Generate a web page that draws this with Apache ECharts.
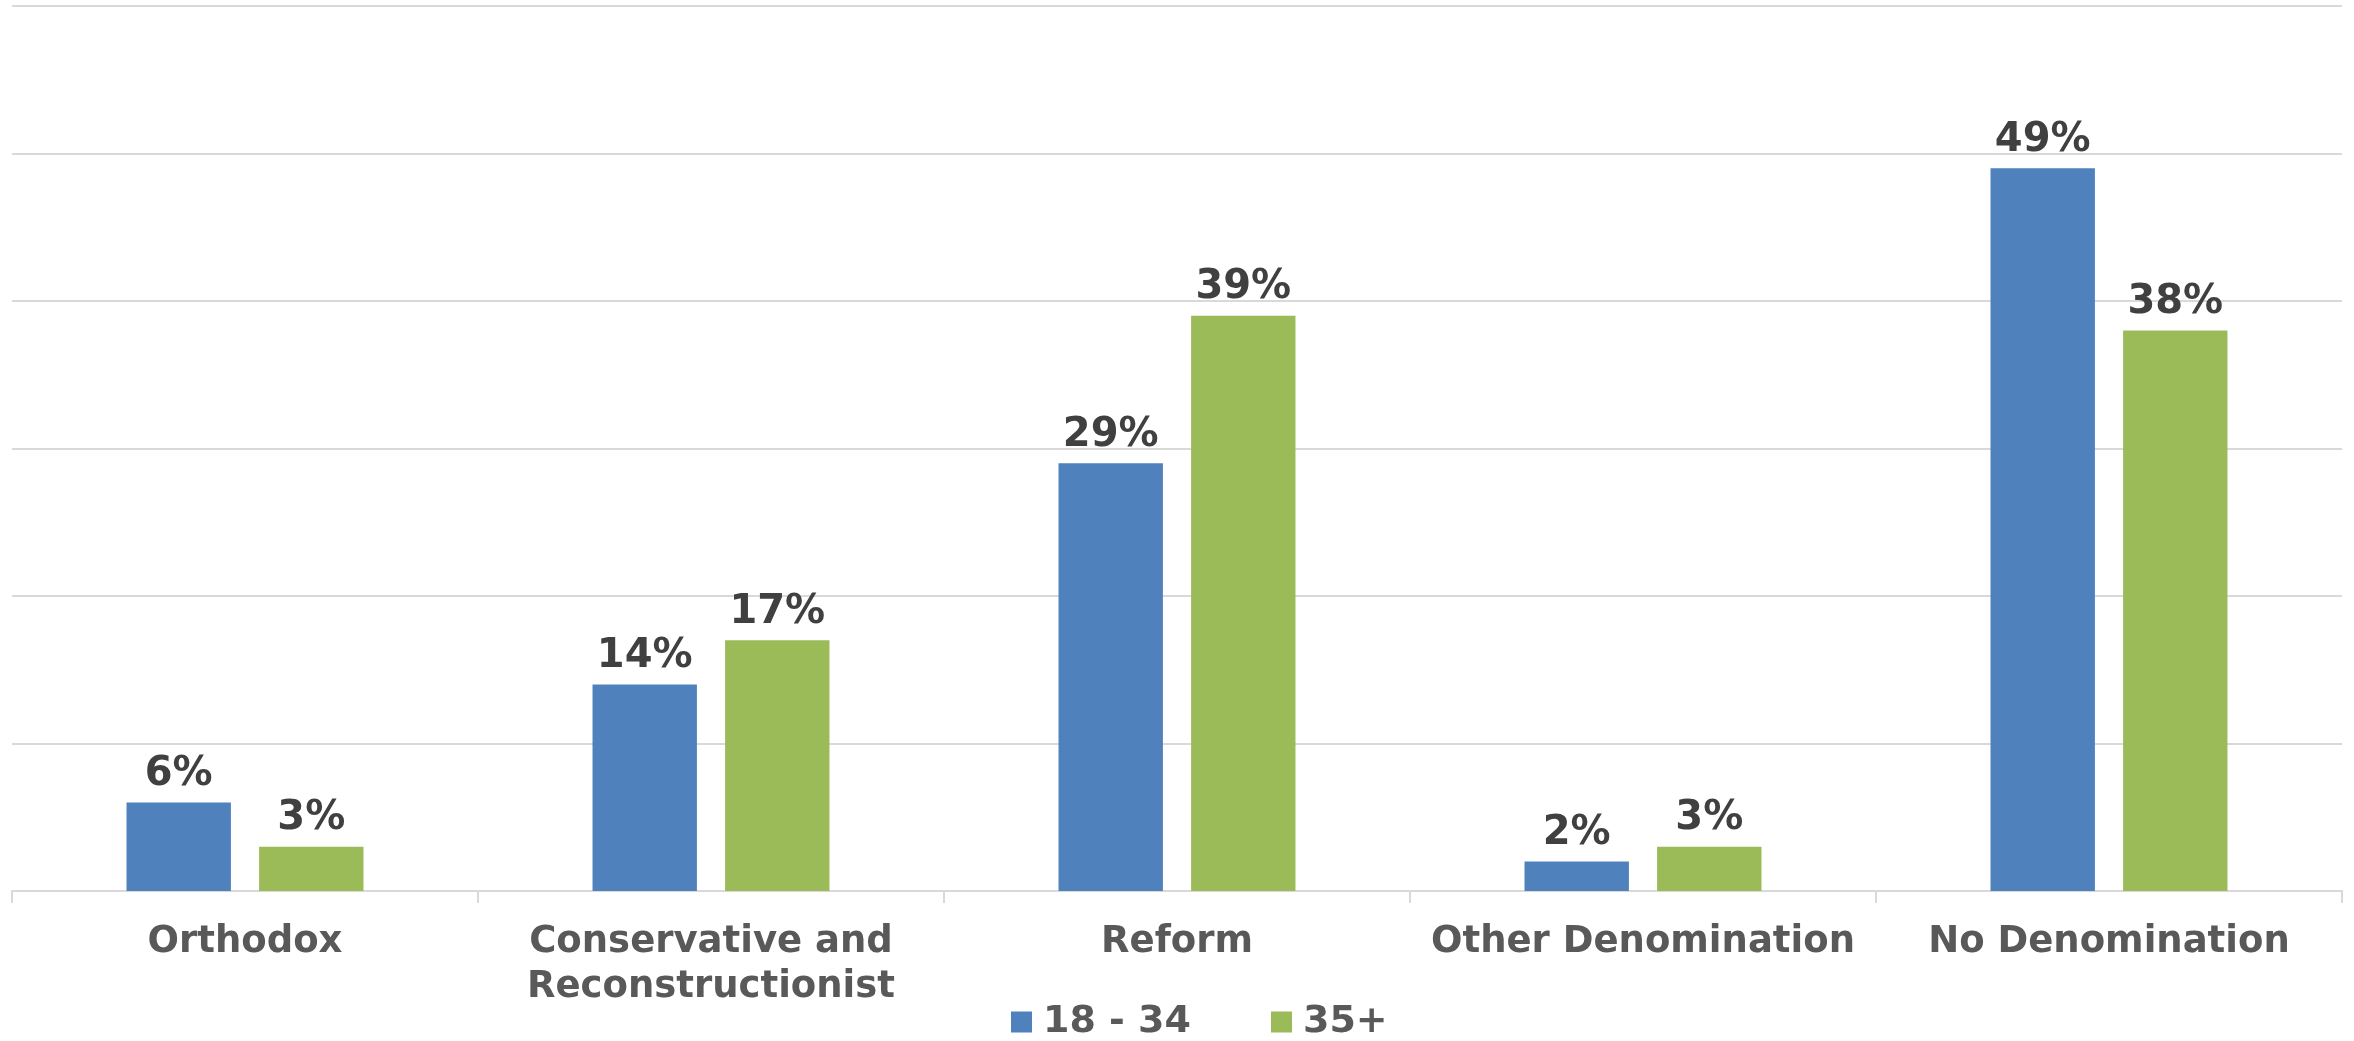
<!DOCTYPE html>
<html>
<head>
<meta charset="utf-8">
<script src="https://cdn.jsdelivr.net/npm/echarts@6/dist/echarts.min.js"></script>
<style>
html,body{margin:0;padding:0;background:#fff;}
#chart{width:2354px;height:1041px;}
</style>
</head>
<body>
<div id="chart"></div>
<script>
const categories = ['Orthodox', 'Conservative and\nReconstructionist', 'Reform', 'Other Denomination', 'No Denomination'];
const seriesNames = ['18 - 34', '35+'];
const young = [6, 14, 29, 2, 49];
const older = [3, 17, 39, 3, 38];

const font = '"DejaVu Sans", Verdana, sans-serif';
const chart = echarts.init(document.getElementById('chart'));
const labelStyle = {
  show: true, position: 'top', distance: 8,
  formatter: p => p.value + '%',
  color: '#404040', fontFamily: font, fontWeight: 'bold', fontSize: 40
};
chart.setOption({
  animation: false,
  backgroundColor: '#fff',
  grid: { left: 12, right: 12, top: 6, bottom: 150, containLabel: false },
  legend: {
    data: seriesNames,
    bottom: -5,
    left: 1006,
    itemWidth: 21, itemHeight: 21, itemGap: 80,
    icon: 'rect',
    textStyle: { color: '#595959', fontFamily: font, fontWeight: 'bold', fontSize: 38, padding: [0, 0, 0, 6] }
  },
  xAxis: {
    type: 'category',
    data: categories,
    axisLine: { lineStyle: { color: '#d9d9d9', width: 2 } },
    axisTick: { show: true, length: 12, lineStyle: { color: '#d9d9d9', width: 2 } },
    axisLabel: { interval: 0, margin: 29, color: '#595959', fontFamily: font, fontWeight: 'bold', fontSize: 37, lineHeight: 45 }
  },
  yAxis: {
    type: 'value', min: 0, max: 60, interval: 10,
    axisLabel: { show: false },
    axisLine: { show: false }, axisTick: { show: false },
    splitLine: { lineStyle: { color: '#d9d9d9', width: 2 } }
  },
  series: [
    { name: seriesNames[0], type: 'bar', data: young, barWidth: '22.4%', barGap: '27%', itemStyle: { color: '#4F81BD' }, label: labelStyle },
    { name: seriesNames[1], type: 'bar', data: older, barWidth: '22.4%', itemStyle: { color: '#9BBB59' }, label: labelStyle }
  ]
});
</script>
</body>
</html>
